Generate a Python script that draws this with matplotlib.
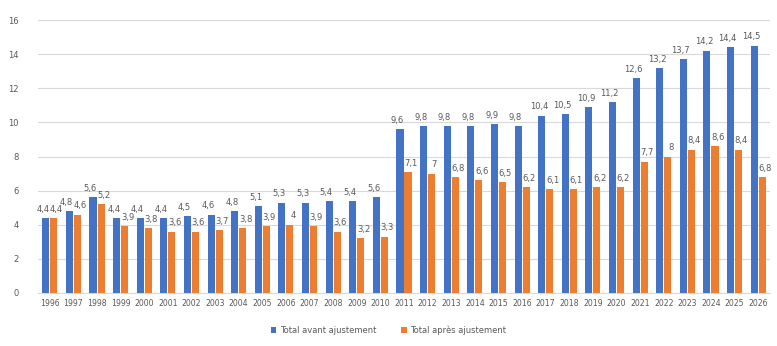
import numpy as np
import matplotlib
import matplotlib.pyplot as plt

matplotlib.use("agg")

years = [str(y) for y in range(1996, 2027)]
avant = [4.4, 4.8, 5.6, 4.4, 4.4, 4.4, 4.5, 4.6, 4.8, 5.1, 5.3, 5.3, 5.4, 5.4, 5.6,
         9.6, 9.8, 9.8, 9.8, 9.9, 9.8, 10.4, 10.5, 10.9, 11.2, 12.6, 13.2, 13.7,
         14.2, 14.4, 14.5]
apres = [4.4, 4.6, 5.2, 3.9, 3.8, 3.6, 3.6, 3.7, 3.8, 3.9, 4, 3.9, 3.6, 3.2, 3.3,
         7.1, 7, 6.8, 6.6, 6.5, 6.2, 6.1, 6.1, 6.2, 6.2, 7.7, 8, 8.4, 8.6, 8.4, 6.8]

blue = "#4472C4"
orange = "#ED7D31"
grey = "#595959"


def fr(v):
    return f"{v:g}".replace(".", ",")


fig = plt.figure(figsize=(7.77, 3.46), dpi=100)
ax = fig.add_axes([38 / 777, 53 / 346, 732 / 777, 273 / 346])

x = np.arange(len(years))
w = 0.3
b1 = ax.bar(x - w / 2 - 0.02, avant, w, color=blue, label="Total avant ajustement", zorder=3)
b2 = ax.bar(x + w / 2 + 0.02, apres, w, color=orange, label="Total après ajustement", zorder=3)

# labels above the bars, nudged apart so equal-height pairs stay readable
for rect, v in zip(b1, avant):
    ax.text(rect.get_x() + rect.get_width() / 2 - 0.12, v + 0.25, fr(v), ha="center",
            va="bottom", fontsize=6, color=grey)
for rect, v in zip(b2, apres):
    ax.text(rect.get_x() + rect.get_width() / 2 + 0.12, v + 0.25, fr(v), ha="center",
            va="bottom", fontsize=6, color=grey)

ax.set_ylim(0, 16)
ax.set_xlim(-0.5, len(years) - 0.5)
ax.set_yticks(range(0, 17, 2))
ax.set_xticks(x)
ax.set_xticklabels(years, fontsize=5.6, color=grey)
ax.tick_params(axis="y", labelsize=6, colors=grey, length=0, pad=14)
ax.tick_params(axis="x", length=0, pad=4)
ax.yaxis.grid(True, color="#D9D9D9", linewidth=0.8, zorder=0)
for s in ["top", "right", "left"]:
    ax.spines[s].set_visible(False)
ax.spines["bottom"].set_color("#D9D9D9")

fig.legend(handles=[b1, b2], loc="center", bbox_to_anchor=(0.5, 16 / 346), ncol=2,
           frameon=False, fontsize=6, labelcolor=grey, handlelength=0.7, handleheight=0.7,
           columnspacing=3, handletextpad=0.4)

fig.savefig("out.png", dpi=100)
plt.close()
